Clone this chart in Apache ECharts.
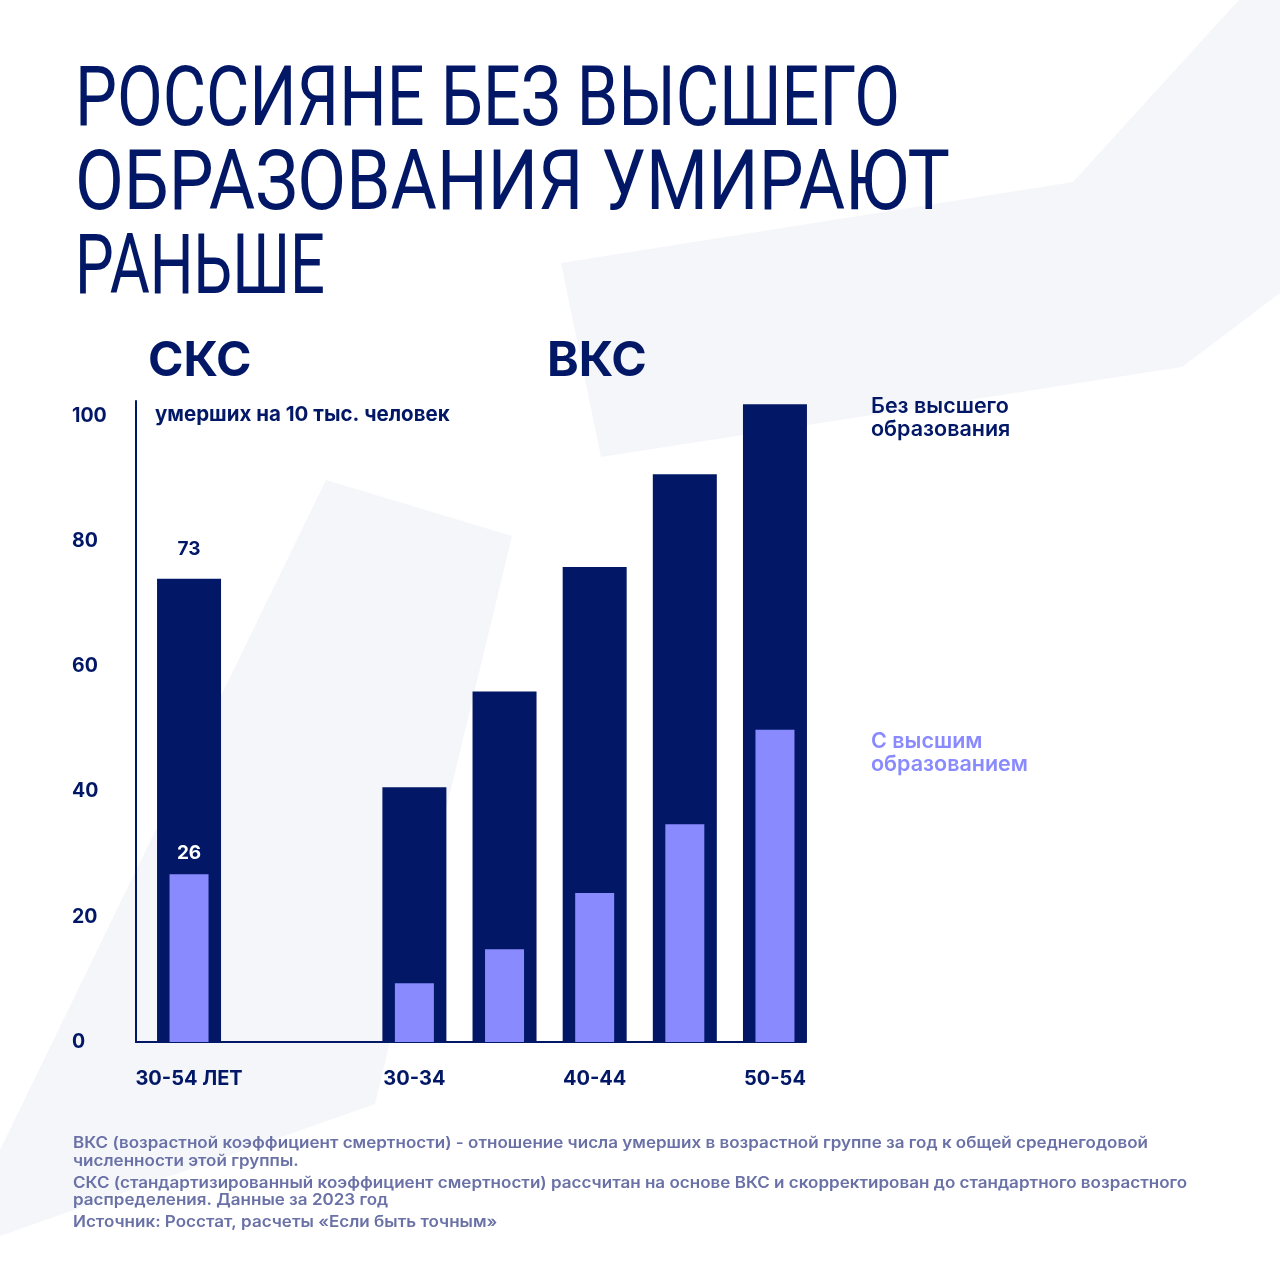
<!DOCTYPE html>
<html><head><meta charset="utf-8">
<script src="https://cdn.jsdelivr.net/npm/echarts@6/dist/echarts.min.js"></script>
<style>html,body{margin:0;padding:0;background:#fff}#c{width:1280px;height:1280px}</style>
</head><body><div id="c"></div>
<script>
// ---- data ----
const titleLines = ['РОССИЯНЕ БЕЗ ВЫСШЕГО', 'ОБРАЗОВАНИЯ УМИРАЮТ', 'РАНЬШЕ'];
const groups = ['30-54 ЛЕТ', '30-34', '35-39', '40-44', '45-49', '50-54'];
// slot layout on the category axis: SKS group, gap, then VKS groups
const slots = ['30-54 ЛЕТ', '', '', '', '', '30-34', '', '35-39', '', '40-44', '', '45-49', '', '50-54'];
const shownTickLabels = ['30-54 ЛЕТ', '30-34', '40-44', '50-54'];
const withoutHigher = [74, 40.7, 56, 75.9, 90.7, 101.9];
const withHigher = [26.8, 9.4, 14.8, 23.8, 34.8, 49.9];
const printedLabels = {'30-54 ЛЕТ': ['73', '26']};
const yTicks = [0, 20, 40, 60, 80, 100];
const unitText = 'умерших на 10 тыс. человек';
const legendDark = ['Без высшего', 'образования'];
const legendLight = ['С высшим', 'образованием'];
const notes = [
  'ВКС (возрастной коэффициент смертности) - отношение числа умерших в возрастной группе за год к общей среднегодовой',
  'численности этой группы.',
  'СКС (стандартизированный коэффициент смертности) рассчитан на основе ВКС и скорректирован до стандартного возрастного',
  'распределения. Данные за 2023 год',
  'Источник: Росстат, расчеты «Если быть точным»'
];

const NAVY = '#021866';
const LIGHT = '#8a8aff';
const NOTE = '#6a71a6';
const BG = '#f5f6fa';

function slotData(values) {
  return slots.map(s => { const i = groups.indexOf(s); return i >= 0 ? values[i] : null; });
}

const mc = document.createElement('canvas').getContext('2d');
function measure(text, font) { mc.font = font; return mc.measureText(text).width; }

const TF = 80, TFONT = '400 ' + TF + 'px Roboto';
const titleTargets = [{w: 825, cy: 104}, {w: 875, cy: 188}, {w: 250, cy: 272}];
const titleEls = titleLines.map((t, i) => ({
  type: 'text', x: 75, y: titleTargets[i].cy, z: 10,
  scaleX: titleTargets[i].w / measure(t, TFONT), scaleY: 1.05,
  style: {text: t, font: TFONT, fill: NAVY, verticalAlign: 'middle', align: 'left'}
}));

// footnote font: natural size, horizontally fitted to the reference line width
const NOTE_FONT = '600 15.5px Inter';
const noteScale = 1075 / measure(notes[0], NOTE_FONT);
const noteY = [1143, 1161, 1183, 1200, 1222];
const noteEls = notes.map((t, i) => ({
  type: 'text', x: 73, y: noteY[i], z: 10, scaleX: noteScale,
  style: {text: t, font: NOTE_FONT, fill: NOTE, verticalAlign: 'middle'}
}));

const LFONT = '600 21.5px Inter';
const chart = echarts.init(document.getElementById('c'), null, {renderer: 'canvas'});
chart.setOption({
  backgroundColor: '#ffffff',
  animation: false,
  graphic: [
    {type: 'polygon', z: -10, shape: {points: [[1239, 0], [1280, 0], [1280, 293], [1182, 367], [601, 457], [561, 263], [1073, 182]]}, style: {fill: BG}},
    {type: 'polygon', z: -10, shape: {points: [[326, 480], [512, 536], [375, 1104], [0, 1236], [0, 1150]]}, style: {fill: BG}},
    ...titleEls,
    {type: 'text', x: 148, y: 362, z: 10, style: {text: 'СКС', font: 'bold 48px Inter', fill: NAVY, verticalAlign: 'middle'}},
    {type: 'text', x: 547, y: 362, z: 10, style: {text: 'ВКС', font: 'bold 48px Inter', fill: NAVY, verticalAlign: 'middle'}},
    {type: 'text', x: 155, y: 415, z: 10, style: {text: unitText, font: 'bold 20.5px Inter', fill: NAVY, verticalAlign: 'middle'}},
    {type: 'text', x: 871, y: 407, z: 10, style: {text: legendDark[0], font: LFONT, fill: NAVY, verticalAlign: 'middle'}},
    {type: 'text', x: 871, y: 430, z: 10, style: {text: legendDark[1], font: LFONT, fill: NAVY, verticalAlign: 'middle'}},
    {type: 'text', x: 871, y: 742, z: 10, style: {text: legendLight[0], font: LFONT, fill: LIGHT, verticalAlign: 'middle'}},
    {type: 'text', x: 871, y: 765, z: 10, style: {text: legendLight[1], font: LFONT, fill: LIGHT, verticalAlign: 'middle'}},
    ...noteEls
  ],
  grid: [
    {left: 136, right: 474, top: 401, bottom: 238},
    {left: 166.5, right: 482.5, top: 401, bottom: 238}
  ],
  xAxis: [
    {gridIndex: 0, type: 'value', min: 0, max: 1, axisLine: {show: true, lineStyle: {color: NAVY, width: 2}},
     axisTick: {show: false}, axisLabel: {show: false}, splitLine: {show: false}},
    {gridIndex: 1, type: 'category', data: slots, axisLine: {show: false}, axisTick: {show: false},
     axisLabel: {interval: 0, margin: 27, color: NAVY, fontFamily: 'Inter', fontWeight: 'bold', fontSize: 20,
       formatter: v => shownTickLabels.indexOf(v) >= 0 ? v : ''}},
    {gridIndex: 1, type: 'category', data: slots, show: false}
  ],
  yAxis: [
    {gridIndex: 0, type: 'value', min: 0, max: 1, show: false},
    {gridIndex: 1, type: 'value', min: 0, max: 102.4, interval: 20, offset: 30.5,
     axisLine: {show: true, lineStyle: {color: NAVY, width: 2}}, axisTick: {show: false}, splitLine: {show: false},
     axisLabel: {showMaxLabel: false, align: 'left', margin: 64, color: NAVY, fontFamily: 'Inter', fontWeight: 'bold', fontSize: 19.5,
       formatter: v => yTicks.indexOf(v) >= 0 ? String(v) : ''}}
  ],
  series: [
    {type: 'bar', name: 'Без высшего образования', xAxisIndex: 1, yAxisIndex: 1, data: slotData(withoutHigher),
     barWidth: 64, clip: false, itemStyle: {color: NAVY}, z: 2,
     label: {show: true, position: 'top', distance: 20, color: NAVY, fontFamily: 'Inter', fontWeight: 'bold', fontSize: 19,
       formatter: p => printedLabels[p.name] ? printedLabels[p.name][0] : ''}},
    {type: 'bar', name: 'С высшим образованием', xAxisIndex: 2, yAxisIndex: 1, data: slotData(withHigher),
     barWidth: 39, clip: false, itemStyle: {color: LIGHT}, z: 3,
     label: {show: true, position: 'top', distance: 11, color: '#ffffff', fontFamily: 'Inter', fontWeight: 'bold', fontSize: 19,
       formatter: p => printedLabels[p.name] ? printedLabels[p.name][1] : ''}}
  ]
});
</script></body></html>
